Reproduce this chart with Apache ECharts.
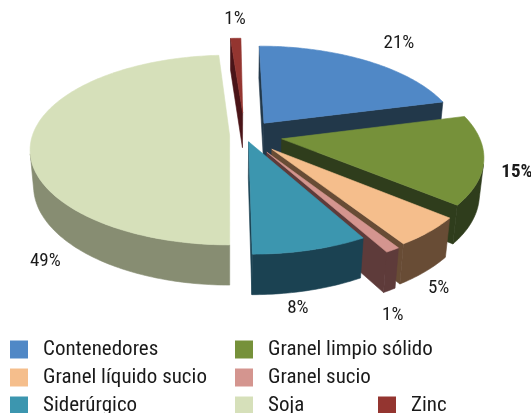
<!DOCTYPE html>
<html>
<head>
<meta charset="utf-8">
<script src="https://cdn.jsdelivr.net/npm/echarts@6/dist/echarts.min.js"></script>
<style>
  html, body { margin: 0; padding: 0; background: #ffffff; }
  #chart { width: 531px; height: 413px; }
</style>
</head>
<body>
<div id="chart"></div>
<script>
// Shares of handled cargo by type (percent)
const categories = ['Contenedores', 'Granel limpio sólido', 'Granel líquido sucio', 'Granel sucio', 'Siderúrgico', 'Soja', 'Zinc'];
const shares = [21, 15, 5, 1, 8, 49, 1];

// Slice styling
const topColors = ['#5088c6', '#76913a', '#f5be8c', '#d4958f', '#3c96af', '#d6e0ba', '#943530'];
const sideColors = ['#22384a', '#2f3d1c', '#684c35', '#5e3b3a', '#1b4252', '#878d72', '#4a1418'];
const explodeBy = [0.165, 0.19, 0.2, 0.21, 0.075, 0.077, 0.25];
// label placement: [angle shift from slice middle in degrees, distance in radii]
const labelSpots = [[1, 1.34], [4.3, 1.16], [13, 1.33], [11.7, 1.39], [7.3, 1.39], [-53.6, 1.36], [0.3, 1.31]];
const boldLabels = [false, true, false, false, false, false, false];

const FONT = '"Roboto Condensed", "DejaVu Sans Condensed", sans-serif';

// Simple perspective camera looking down on the pie
const view = { tilt: 28, dist: 5.66, focal: 1115, camX: -0.08, cx: 229, cy: 135, thick: 0.21 };
const ca = Math.cos(view.tilt * Math.PI / 180), sa = Math.sin(view.tilt * Math.PI / 180);
const camPos = [view.camX, view.dist * sa, view.dist * ca];

function project(X, Y, Z) {
  const depth = view.dist - Y * sa - Z * ca;
  return [view.cx + view.focal * (X - view.camX) / depth,
          view.cy - view.focal * (Y * ca - Z * sa) / depth];
}

const total = shares.reduce((a, b) => a + b, 0);

function sliceGeom(i, value) {
  let before = 0;
  for (let k = 0; k < i; k++) before += shares[k];
  const a0 = before / total * 2 * Math.PI;
  const a1 = (before + value) / total * 2 * Math.PI;
  const mid = (a0 + a1) / 2;
  return { a0, a1, mid, ox: explodeBy[i] * Math.sin(mid), oz: -explodeBy[i] * Math.cos(mid) };
}

// painter's order: slices whose nearest point is farther away go first
const drawRank = (function () {
  const nearest = shares.map((v, i) => {
    const g = sliceGeom(i, v);
    let z = g.oz;
    for (let k = 0; k <= 40; k++) {
      const a = g.a0 + (g.a1 - g.a0) * k / 40;
      z = Math.max(z, g.oz - Math.cos(a));
    }
    return z;
  });
  const order = nearest.map((v, i) => i).sort((a, b) => nearest[a] - nearest[b]);
  const rank = [];
  order.forEach((idx, r) => { rank[idx] = r; });
  return rank;
})();

function poly(points, color, z2) {
  return {
    type: 'polygon', z2,
    shape: { points },
    style: { fill: color, stroke: color, lineWidth: 0.6 }
  };
}

function renderSlice(i, value) {
  const g = sliceGeom(i, value);
  const H = view.thick;
  const base = drawRank[i] * 10;
  const children = [];
  const rim3 = (a) => [g.ox + Math.sin(a), g.oz - Math.cos(a)];
  const rim = (a, y) => { const p = rim3(a); return project(p[0], y, p[1]); };
  const apexTop = project(g.ox, 0, g.oz);
  const apexBot = project(g.ox, -H, g.oz);
  const facesCam = (n, P) => n[0] * (camPos[0] - P[0]) + n[1] * (camPos[1] - P[1]) + n[2] * (camPos[2] - P[2]) > 0;

  // radial cut faces
  [[g.a0, -1], [g.a1, 1]].forEach(([a, s]) => {
    const n = [s * Math.cos(a), 0, s * Math.sin(a)];
    if (facesCam(n, [g.ox, 0, g.oz])) {
      children.push(poly([apexTop, rim(a, 0), rim(a, -H), apexBot], sideColors[i], base + 1));
    }
  });

  // outer wall, split into runs that face the camera
  const steps = Math.max(2, Math.ceil((g.a1 - g.a0) / (Math.PI / 180)));
  let run = null;
  const flush = () => {
    if (run && run.length > 1) {
      const pts = run.map(a => rim(a, 0)).concat(run.slice().reverse().map(a => rim(a, -H)));
      children.push(poly(pts, sideColors[i], base + 2));
    }
    run = null;
  };
  for (let k = 0; k < steps; k++) {
    const t0 = g.a0 + (g.a1 - g.a0) * k / steps;
    const t1 = g.a0 + (g.a1 - g.a0) * (k + 1) / steps;
    const tm = (t0 + t1) / 2;
    const p = rim3(tm);
    if (facesCam([Math.sin(tm), 0, -Math.cos(tm)], [p[0], 0, p[1]])) {
      if (!run) run = [t0];
      run.push(t1);
    } else flush();
  }
  flush();

  // top face
  const topPts = [apexTop];
  for (let k = 0; k <= steps; k++) topPts.push(rim(g.a0 + (g.a1 - g.a0) * k / steps, 0));
  children.push(poly(topPts, topColors[i], base + 5));

  // percentage label
  const la = g.mid + labelSpots[i][0] * Math.PI / 180;
  const lr = labelSpots[i][1];
  const lp = project(g.ox + lr * Math.sin(la), 0, g.oz - lr * Math.cos(la));
  children.push({
    type: 'text', x: lp[0], y: lp[1], z2: 1000,
    style: {
      text: Math.round(value / total * 100) + '%',
      fontFamily: FONT, fontSize: 19, fontWeight: boldLabels[i] ? 'bold' : 'normal',
      fill: '#1a1a1a', align: 'center', verticalAlign: 'middle'
    }
  });

  return { type: 'group', children };
}

const legendText = { fontFamily: FONT, fontSize: 21, color: '#1a1a1a', lineHeight: 18, padding: [0, 0, 0, 10] };
const legendBase = {
  orient: 'vertical', icon: 'rect', itemWidth: 18, itemHeight: 18, itemGap: 7,
  height: 200, padding: 0, selectedMode: false, textStyle: legendText
};
const legendItem = (i) => ({ name: categories[i], itemStyle: { color: topColors[i] } });

const chart = echarts.init(document.getElementById('chart'), null, { renderer: 'canvas' });
chart.setOption({
  animation: false,
  backgroundColor: '#ffffff',
  legend: [
    Object.assign({}, legendBase, { left: 10, top: 339, data: [0, 2, 4].map(legendItem) }),
    Object.assign({}, legendBase, { left: 235, top: 339, data: [1, 3, 5].map(legendItem) }),
    Object.assign({}, legendBase, { left: 378, top: 395, data: [6].map(legendItem) })
  ],
  series: categories.map((name, i) => ({
    type: 'custom',
    name,
    coordinateSystem: 'none',
    silent: true,
    itemStyle: { color: topColors[i] },
    data: [[shares[i]]],
    renderItem: (params, api) => renderSlice(i, api.value(0))
  }))
});
</script>
</body>
</html>
